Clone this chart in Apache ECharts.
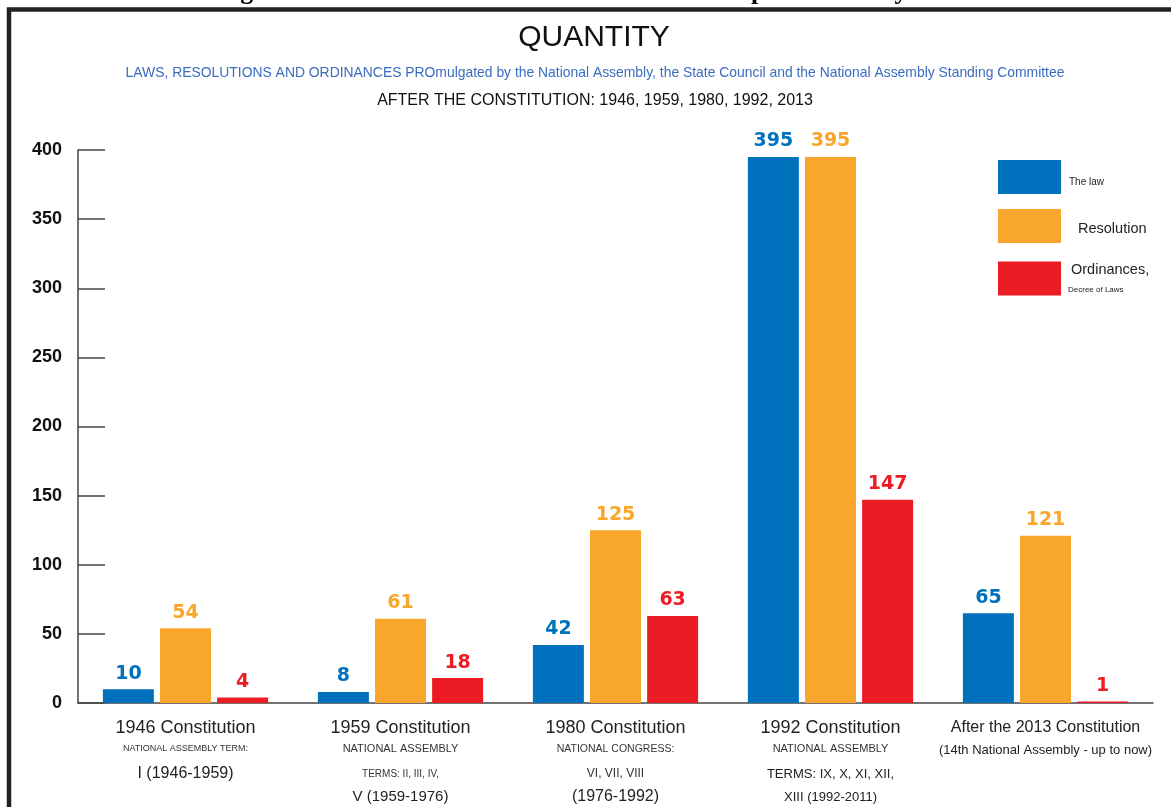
<!DOCTYPE html>
<html>
<head>
<meta charset="utf-8">
<script src="https://cdn.jsdelivr.net/npm/echarts@6/dist/echarts.min.js"></script>
<style>
  html, body { margin: 0; padding: 0; background: #fff; }
  #main { width: 1171px; height: 807px; }
</style>
</head>
<body>
<div id="main"></div>
<script>
// number of legal documents per constitution period
var categories = ['1946 Constitution', '1959 Constitution', '1980 Constitution', '1992 Constitution', 'After the 2013 Constitution'];
var categoryNotes = [
    ['NATIONAL ASSEMBLY TERM:', 'I (1946-1959)'],
    ['NATIONAL ASSEMBLY', 'TERMS: II, III, IV,', 'V (1959-1976)'],
    ['NATIONAL CONGRESS:', 'VI, VII, VIII', '(1976-1992)'],
    ['NATIONAL ASSEMBLY', 'TERMS: IX, X, XI, XII,', 'XIII (1992-2011)'],
    ['(14th National Assembly - up to now)']
];
var lawValues = [10, 8, 42, 395, 65];
var resolutionValues = [54, 61, 125, 395, 121];
var ordinanceValues = [4, 18, 63, 147, 1];
var seriesNames = ['The law', 'Resolution', 'Ordinances, Decree of Laws'];

var BLUE = '#0071bc';
var ORANGE = '#f8a72c';
var RED = '#ec1c24';

var myChart = echarts.init(document.getElementById('main'));

function barSeries(name, data, color) {
    return {
        name: name,
        type: 'bar',
        data: data,
        barWidth: 51,
        barGap: '12%',
        itemStyle: { color: color },
        label: {
            show: true,
            position: 'top',
            distance: 6,
            color: color,
            fontFamily: 'DejaVu Sans',
            fontWeight: 'bold',
            fontSize: 19
        }
    };
}

var option = {
    animation: false,
    backgroundColor: '#fff',
    title: [{
        text: 'QUANTITY',
        left: 589,
        top: 18,
        textAlign: 'center',
        textStyle: { fontFamily: 'Liberation Sans', fontWeight: 'normal', fontSize: 30, color: '#111' }
    }, {
        text: 'LAWS, RESOLUTIONS AND ORDINANCES PROmulgated by the National Assembly, the State Council and the National Assembly Standing Committee',
        left: 590,
        top: 61,
        textAlign: 'center',
        textStyle: { fontFamily: 'Liberation Sans', fontWeight: 'normal', fontSize: 13.9, color: '#3a6cc0' }
    }, {
        text: 'AFTER THE CONSTITUTION: 1946, 1959, 1980, 1992, 2013',
        left: 590,
        top: 88,
        textAlign: 'center',
        textStyle: { fontFamily: 'Liberation Sans', fontWeight: 'normal', fontSize: 16, color: '#111' }
    }],
    graphic: [{
        type: 'text',
        left: 'center',
        top: -21,
        style: {
            text: 'Figure 2. The number of laws in Vietnam developed over the years',
            font: 'bold 26px "Liberation Serif"',
            fill: '#000'
        }
    }, {
        type: 'rect',
        shape: { x: 9, y: 9.5, width: 1300, height: 900 },
        style: { fill: 'none', stroke: '#222', lineWidth: 4.5 }
    }],
    legend: {
        orient: 'vertical',
        left: 993,
        top: 155,
        itemWidth: 63,
        itemHeight: 34,
        itemGap: 15,
        icon: 'rect',
        data: seriesNames,
        formatter: function(name) {
            if (name == 'The law') return '{law|The law}';
            if (name == 'Resolution') return '{res|Resolution}';
            return '{ord|Ordinances,}\n{dec|Decree of Laws}';
        },
        textStyle: {
            fontFamily: 'Liberation Sans',
            color: '#222',
            rich: {
                law: { fontSize: 10, padding: [10, 0, 0, 3] },
                res: { fontSize: 14.5, padding: [6, 0, 0, 12] },
                ord: { fontSize: 14.5, lineHeight: 22, padding: [4, 0, 0, 5] },
                dec: { fontSize: 8, lineHeight: 22, padding: [0, 0, 0, 2] }
            }
        }
    },
    grid: {
        left: 78,
        right: 18,
        top: 150,
        bottom: 104
    },
    xAxis: {
        type: 'category',
        data: categories,
        axisLine: { lineStyle: { color: '#444', width: 1.5 } },
        axisTick: { inside: true, length: 14, lineStyle: { color: '#444', width: 1.5 } },
        axisLabel: {
            margin: 14,
            color: '#222',
            fontFamily: 'Liberation Sans',
            interval: 0,
            formatter: function(value, idx) {
                var lines = [(idx == 4 ? '{t5|' : '{t|') + value + '}'];
                var notes = categoryNotes[idx];
                for (var j = 0; j < notes.length; j++) {
                    lines.push('{n' + idx + (j + 2) + '|' + notes[j] + '}');
                }
                return lines.join('\n');
            },
            rich: {
                t: { fontSize: 18, lineHeight: 22, color: '#222' },
                t5: { fontSize: 16, lineHeight: 22, color: '#222' },
                n02: { fontSize: 9, lineHeight: 20, color: '#333' },
                n03: { fontSize: 16, lineHeight: 30, color: '#222' },
                n12: { fontSize: 11, lineHeight: 20, color: '#333' },
                n13: { fontSize: 10, lineHeight: 30, color: '#333' },
                n14: { fontSize: 15, lineHeight: 16, color: '#222' },
                n22: { fontSize: 10.5, lineHeight: 20, color: '#333' },
                n23: { fontSize: 12, lineHeight: 30, color: '#333' },
                n24: { fontSize: 16, lineHeight: 16, color: '#222' },
                n32: { fontSize: 11, lineHeight: 20, color: '#333' },
                n33: { fontSize: 13, lineHeight: 30, color: '#222' },
                n34: { fontSize: 13, lineHeight: 16, color: '#222' },
                n42: { fontSize: 13, lineHeight: 22, color: '#222' }
            }
        }
    },
    yAxis: {
        type: 'value',
        min: 0,
        max: 400,
        interval: 50,
        splitLine: { show: false },
        axisLine: { show: true, lineStyle: { color: '#444', width: 1.5 } },
        axisTick: { show: true, inside: true, length: 27, lineStyle: { color: '#444', width: 1.5 } },
        axisLabel: {
            margin: 16,
            color: '#111',
            fontFamily: 'Liberation Sans',
            fontWeight: 'bold',
            fontSize: 18
        }
    },
    series: [
        barSeries(seriesNames[0], lawValues, BLUE),
        barSeries(seriesNames[1], resolutionValues, ORANGE),
        barSeries(seriesNames[2], ordinanceValues, RED)
    ]
};
myChart.setOption(option);
</script>
</body>
</html>
